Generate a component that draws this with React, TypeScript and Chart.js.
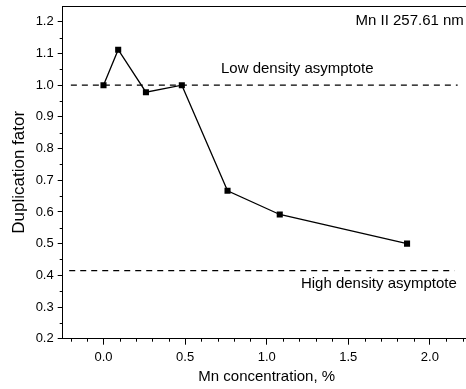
import React, { useEffect, useRef } from "react";
import { Chart, registerables } from "chart.js";

Chart.register(...registerables);

// ---- data ----
const concentration = [0, 0.09, 0.26, 0.48, 0.76, 1.08, 1.86];
const duplicationFactor = [1.0, 1.112, 0.978, 1.0, 0.667, 0.592, 0.5];

const lowAsymptoteX = [-0.2, 2.17];
const lowAsymptoteY = [1.0, 1.0];
const highAsymptoteX = [-0.21, 2.15];
const highAsymptoteY = [0.415, 0.415];

const xTicks = [0, 0.5, 1.0, 1.5, 2.0];
const yTicks = [0.2, 0.3, 0.4, 0.5, 0.6, 0.7, 0.8, 0.9, 1.0, 1.1, 1.2];
const xMinorTicks = [-0.2, -0.1, 0.1, 0.2, 0.3, 0.4, 0.6, 0.7, 0.8, 0.9, 1.1, 1.2, 1.3, 1.4, 1.6, 1.7, 1.8, 1.9, 2.1, 2.2];
const yMinorTicks = [0.25, 0.35, 0.45, 0.55, 0.65, 0.75, 0.85, 0.95, 1.05, 1.15];

const annotationTexts = ["Mn II 257.61 nm", "Low density asymptote", "High density asymptote"];
const annotationX = [2.208, 0.72, 2.165];
const annotationY = [1.202, 1.052, 0.373];
const annotationAlign: CanvasTextAlign[] = ["right", "left", "right"];

const FONT = "'Liberation Sans', Arial, sans-serif";

const CANVAS_W = 480;
const CANVAS_H = 389;

const extrasPlugin = {
  id: "extras",
  afterDraw(chart: any) {
    const ctx = chart.ctx as CanvasRenderingContext2D;
    const area = chart.chartArea;
    const xs = chart.scales.x;
    const ys = chart.scales.y;
    ctx.save();
    ctx.strokeStyle = "#000";
    ctx.lineWidth = 1;
    // frame top and right
    ctx.beginPath();
    ctx.moveTo(area.left, area.top + 0.5);
    ctx.lineTo(area.right, area.top + 0.5);
    ctx.moveTo(area.right - 0.5, area.top);
    ctx.lineTo(area.right - 0.5, area.bottom);
    ctx.stroke();
    // minor ticks
    ctx.beginPath();
    xMinorTicks.forEach((v) => {
      const px = Math.round(xs.getPixelForValue(v)) + 0.5;
      ctx.moveTo(px, area.bottom);
      ctx.lineTo(px, area.bottom + 3);
    });
    yMinorTicks.forEach((v) => {
      const py = Math.round(ys.getPixelForValue(v)) + 0.5;
      ctx.moveTo(area.left - 3, py);
      ctx.lineTo(area.left, py);
    });
    ctx.stroke();
    // annotations
    ctx.fillStyle = "#000";
    ctx.font = `15px ${FONT}`;
    ctx.textBaseline = "middle";
    annotationTexts.forEach((t, i) => {
      ctx.textAlign = annotationAlign[i];
      ctx.fillText(t, xs.getPixelForValue(annotationX[i]), ys.getPixelForValue(annotationY[i]));
    });
    ctx.restore();
  },
};

export default function App() {
  const ref = useRef<HTMLCanvasElement | null>(null);

  useEffect(() => {
    if (!ref.current) return;
    const chart = new Chart(ref.current, {
      type: "line",
      data: {
        datasets: [
          {
            data: concentration.map((x, i) => ({ x, y: duplicationFactor[i] })),
            borderColor: "#000",
            backgroundColor: "#000",
            borderWidth: 1.3,
            pointStyle: "rect",
            pointRadius: 4.3,
            pointBackgroundColor: "#000",
            pointBorderColor: "#000",
            pointBorderWidth: 0,
            tension: 0,
          },
          {
            data: lowAsymptoteX.map((x, i) => ({ x, y: lowAsymptoteY[i] })),
            borderColor: "#000",
            borderWidth: 1.3,
            borderDash: [6, 5],
            pointRadius: 0,
          },
          {
            data: highAsymptoteX.map((x, i) => ({ x, y: highAsymptoteY[i] })),
            borderColor: "#000",
            borderWidth: 1.3,
            borderDash: [6, 5],
            pointRadius: 0,
          },
        ],
      },
      options: {
        animation: false,
        responsive: false,
        devicePixelRatio: 1,
        layout: { padding: { left: 0, top: 6, right: CANVAS_W - 470.7, bottom: 0 } },
        plugins: { legend: { display: false }, tooltip: { enabled: false } },
        scales: {
          x: {
            type: "linear",
            min: -0.25,
            max: 2.25,
            afterBuildTicks: (s: any) => {
              s.ticks = xTicks.map((v) => ({ value: v }));
            },
            afterFit: (s: any) => {
              s.height = CANVAS_H - 338.7;
              s.paddingLeft = 0;
              s.paddingRight = 0;
            },
            grid: { drawOnChartArea: false, drawTicks: true, tickLength: 6, color: "#000", lineWidth: 1 },
            border: { display: true, color: "#000", width: 1 },
            ticks: {
              color: "#000",
              font: { family: FONT, size: 13 },
              padding: 5,
              maxRotation: 0,
              callback: (v: any) => Number(v).toFixed(1),
            },
            title: {
              display: true,
              text: "Mn concentration, %",
              color: "#000",
              font: { family: FONT, size: 15 },
              padding: { top: 0, bottom: 3 },
            },
          },
          y: {
            type: "linear",
            min: 0.2,
            max: 1.25,
            afterBuildTicks: (s: any) => {
              s.ticks = yTicks.map((v) => ({ value: v }));
            },
            afterFit: (s: any) => {
              s.width = 62.7;
              s.paddingTop = 0;
              s.paddingBottom = 0;
            },
            grid: { drawOnChartArea: false, drawTicks: true, tickLength: 5, color: "#000", lineWidth: 1 },
            border: { display: true, color: "#000", width: 1 },
            ticks: {
              color: "#000",
              font: { family: FONT, size: 13 },
              padding: 4,
              callback: (v: any) => Number(v).toFixed(1),
            },
            title: {
              display: true,
              text: "Duplication fator",
              color: "#000",
              font: { family: FONT, size: 17 },
              padding: { top: 9, bottom: 0 },
            },
          },
        },
      },
      plugins: [extrasPlugin],
    });
    return () => chart.destroy();
  }, []);

  return (
    <div
      style={{
        position: "fixed",
        left: 0,
        top: 0,
        width: 466,
        height: CANVAS_H,
        overflow: "hidden",
        background: "#fff",
      }}
    >
      <canvas ref={ref} width={CANVAS_W} height={CANVAS_H} style={{ display: "block" }} />
    </div>
  );
}
